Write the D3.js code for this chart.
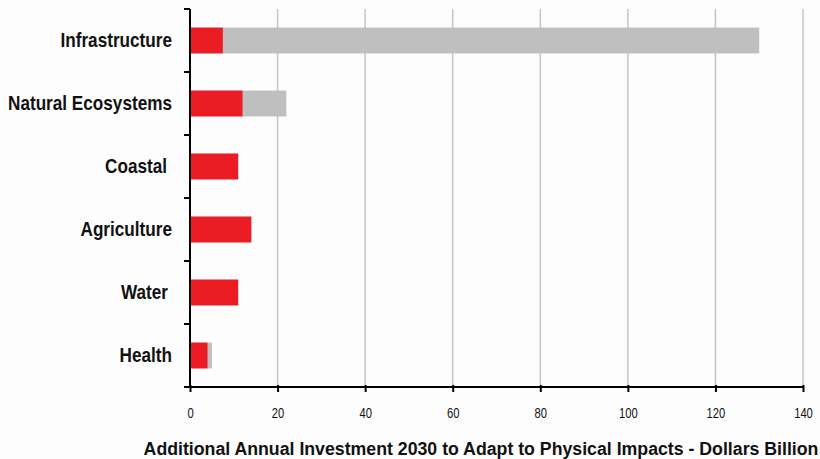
<!DOCTYPE html>
<html>
<head>
<meta charset="utf-8">
<script src="https://cdn.jsdelivr.net/npm/d3@7"></script>
<style>
  html, body { margin: 0; padding: 0; background: #fdfdfd; }
  svg { display: block; }
  text { font-family: "Liberation Sans Narrow", "Arial Narrow", "Liberation Sans", Arial, sans-serif; fill: #111; }
</style>
</head>
<body>
<svg id="chart" width="820" height="459"></svg>
<script>
// Sectors, top to bottom
const categories = ["Infrastructure", "Natural Ecosystems", "Coastal", "Agriculture", "Water", "Health"];
// Lower estimate (red) and upper estimate (grey end) of annual investment, $bn
const lowValues  = [7.5, 12, 11, 14, 11, 4];
const highValues = [130, 22, 11, 14, 11, 5];
const xTicks = [0, 20, 40, 60, 80, 100, 120, 140];
const xTitle = "Additional Annual Investment 2030 to Adapt to Physical Impacts - Dollars Billion";

const svg = d3.select("#chart");
const plotLeft = 190, plotRight = 803, plotTop = 9, plotBottom = 387;

const x = d3.scaleLinear().domain([0, 140]).range([plotLeft, plotRight]);
const y = d3.scaleBand().domain(categories).range([plotTop, plotBottom]).paddingInner(0.59).paddingOuter(0.295);
const band = d3.scaleBand().domain(categories).range([plotTop, plotBottom]);

// Vertical gridlines
svg.append("g").selectAll("line")
  .data(xTicks.slice(1))
  .join("line")
  .attr("x1", d => x(d)).attr("x2", d => x(d))
  .attr("y1", plotTop).attr("y2", plotBottom)
  .attr("stroke", "#c6c6c6").attr("stroke-width", 1.5);

// Upper estimate bars (grey)
svg.append("g").selectAll("rect")
  .data(categories)
  .join("rect")
  .attr("x", x(0))
  .attr("y", d => y(d))
  .attr("width", (d, i) => x(highValues[i]) - x(0))
  .attr("height", y.bandwidth())
  .attr("fill", "#bfbfbf");

// Lower estimate bars (red)
svg.append("g").selectAll("rect")
  .data(categories)
  .join("rect")
  .attr("x", x(0))
  .attr("y", d => y(d))
  .attr("width", (d, i) => x(lowValues[i]) - x(0))
  .attr("height", y.bandwidth())
  .attr("fill", "#ec1c24");

// Y axis: line with ticks on band boundaries
const yAxis = svg.append("g");
yAxis.append("line")
  .attr("x1", plotLeft).attr("x2", plotLeft)
  .attr("y1", plotTop).attr("y2", plotBottom)
  .attr("stroke", "#000").attr("stroke-width", 2);
const boundaries = categories.map(c => band(c)).concat([plotBottom]);
yAxis.selectAll("line.tick")
  .data(boundaries)
  .join("line")
  .attr("class", "tick")
  .attr("x1", plotLeft - 6).attr("x2", plotLeft)
  .attr("y1", d => d).attr("y2", d => d)
  .attr("stroke", "#000").attr("stroke-width", 2);

// Category labels (condensed bold)
const labelPad = { "Coastal": 5, "Water": 4 };
yAxis.selectAll("text")
  .data(categories)
  .join("text")
  .attr("transform", d => `translate(${172 - (labelPad[d] || 0)},${band(d) + band.bandwidth() / 2}) scale(0.88,1)`)
  .attr("dy", "0.33em")
  .attr("text-anchor", "end")
  .attr("font-size", 19.5)
  .attr("font-weight", "bold")
  .text(d => d);

// X axis
const xAxis = svg.append("g").attr("transform", `translate(0,${plotBottom})`)
  .call(d3.axisBottom(x).tickValues(xTicks).tickSize(5).tickPadding(16).tickFormat(d3.format("d")));
xAxis.select(".domain").attr("stroke", "#000").attr("stroke-width", 2).attr("d", `M${plotLeft},0H${plotRight}`);
xAxis.selectAll(".tick line").attr("stroke", "#000").attr("stroke-width", 2).attr("y1", -2);
xAxis.selectAll(".tick text")
  .attr("font-family", "'Liberation Sans Narrow', 'Arial Narrow', Arial, sans-serif")
  .attr("font-size", 14)
  .attr("fill", "#000")
  .attr("transform", "scale(0.8,1)");

// Axis title
svg.append("text")
  .attr("transform", "translate(481,455) scale(0.933,1)")
  .attr("text-anchor", "middle")
  .attr("font-size", 19)
  .attr("font-weight", "bold")
  .text(xTitle);
</script>
</body>
</html>
